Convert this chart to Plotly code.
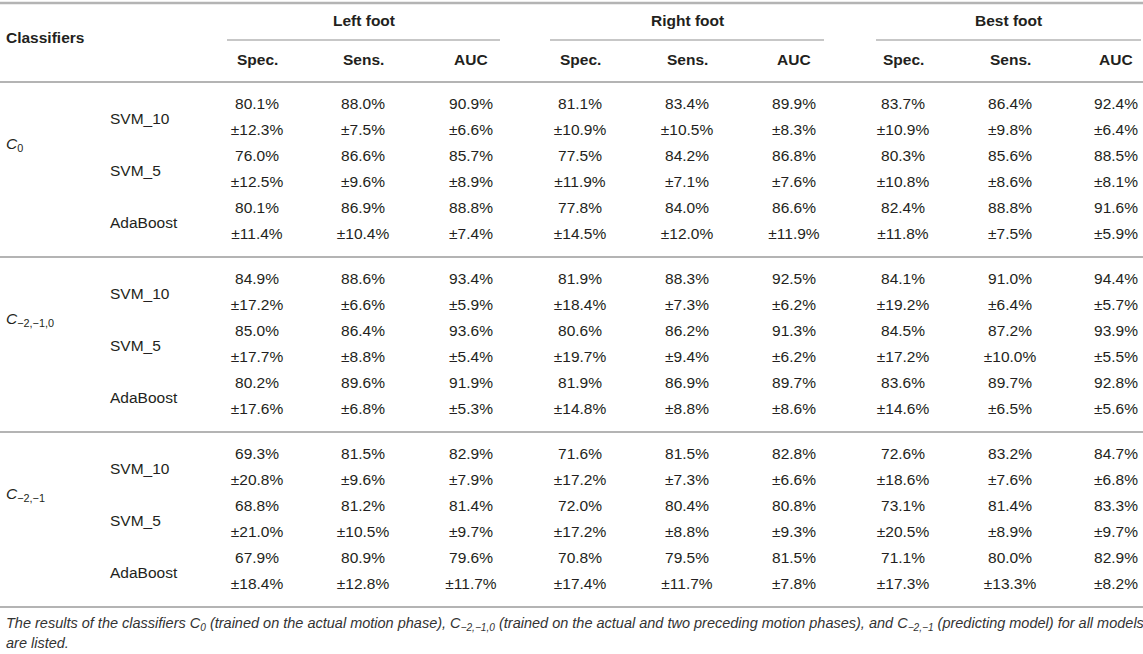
import plotly.graph_objects as go

# Table content
feet = ["Left foot", "Right foot", "Best foot"]
metrics = ["Spec.", "Sens.", "AUC"]
group_labels = ["<i>C</i><sub>0</sub>", "<i>C</i><sub>−2,−1,0</sub>", "<i>C</i><sub>−2,−1</sub>"]
classifiers = ["SVM_10", "SVM_5", "AdaBoost"]

# mean values (%) per classifier: left foot, right foot, best foot x (Spec, Sens, AUC)
mean_c0 = [[80.1, 88.0, 90.9, 81.1, 83.4, 89.9, 83.7, 86.4, 92.4],
           [76.0, 86.6, 85.7, 77.5, 84.2, 86.8, 80.3, 85.6, 88.5],
           [80.1, 86.9, 88.8, 77.8, 84.0, 86.6, 82.4, 88.8, 91.6]]
sd_c0 = [[12.3, 7.5, 6.6, 10.9, 10.5, 8.3, 10.9, 9.8, 6.4],
         [12.5, 9.6, 8.9, 11.9, 7.1, 7.6, 10.8, 8.6, 8.1],
         [11.4, 10.4, 7.4, 14.5, 12.0, 11.9, 11.8, 7.5, 5.9]]

mean_c210 = [[84.9, 88.6, 93.4, 81.9, 88.3, 92.5, 84.1, 91.0, 94.4],
             [85.0, 86.4, 93.6, 80.6, 86.2, 91.3, 84.5, 87.2, 93.9],
             [80.2, 89.6, 91.9, 81.9, 86.9, 89.7, 83.6, 89.7, 92.8]]
sd_c210 = [[17.2, 6.6, 5.9, 18.4, 7.3, 6.2, 19.2, 6.4, 5.7],
           [17.7, 8.8, 5.4, 19.7, 9.4, 6.2, 17.2, 10.0, 5.5],
           [17.6, 6.8, 5.3, 14.8, 8.8, 8.6, 14.6, 6.5, 5.6]]

mean_c21 = [[69.3, 81.5, 82.9, 71.6, 81.5, 82.8, 72.6, 83.2, 84.7],
            [68.8, 81.2, 81.4, 72.0, 80.4, 80.8, 73.1, 81.4, 83.3],
            [67.9, 80.9, 79.6, 70.8, 79.5, 81.5, 71.1, 80.0, 82.9]]
sd_c21 = [[20.8, 9.6, 7.9, 17.2, 7.3, 6.6, 18.6, 7.6, 6.8],
          [21.0, 10.5, 9.7, 17.2, 8.8, 9.3, 20.5, 8.9, 9.7],
          [18.4, 12.8, 11.7, 17.4, 11.7, 7.8, 17.3, 13.3, 8.2]]

footnote = ["The results of the classifiers C<sub>0</sub> (trained on the actual motion phase), "
            "C<sub>−2,−1,0</sub> (trained on the actual and two preceding motion phases), and "
            "C<sub>−2,−1</sub> (predicting model) for all models",
            "are listed."]

means = [mean_c0, mean_c210, mean_c21]
sds = [sd_c0, sd_c210, sd_c21]

# Layout geometry (pixels)
W, H = 1143, 654
FONT = "Liberation Sans, Arial, Helvetica, sans-serif"
TXT = "#231f20"
RULE = "#b4b4b4"
foot_x0 = [227, 550, 876]
foot_x1 = [500, 824, 1141]
col_x = [257, 363, 471, 580, 687, 794, 903, 1010, 1116]
header_line = 82
first_row = 105
row_step = 26
group_step = 175

body_font = dict(family=FONT, size=15.5, color=TXT)
bold_font = dict(family=FONT, size=15.5, color=TXT, weight="bold")

xs, ys, texts = [], [], []
annotations = []
shapes = []

for g in range(3):
    y0 = first_row + g * group_step
    annotations.append(dict(x=4, y=y0 + 1.5 * row_step, text=group_labels[g],
                            xanchor="left", font=body_font))
    for c in range(3):
        ym = y0 + 2 * c * row_step
        ys_ = ym + row_step
        annotations.append(dict(x=108, y=(ym + ys_) / 2, text=classifiers[c],
                                xanchor="left", font=body_font))
        for j in range(9):
            xs += [col_x[j], col_x[j]]
            ys += [ym, ys_]
            texts += ["%.1f%%" % means[g][c][j], "±%.1f%%" % sds[g][c][j]]
    yl = header_line + (g + 1) * group_step
    shapes.append(dict(type="line", x0=0, x1=W, y0=yl, y1=yl, line=dict(color=RULE, width=2)))

# header
annotations.append(dict(x=4, y=37, text="Classifiers", xanchor="left", font=bold_font))
for f in range(3):
    annotations.append(dict(x=(foot_x0[f] + foot_x1[f]) / 2, y=20, text=feet[f],
                            font=bold_font))
    shapes.append(dict(type="line", x0=foot_x0[f], x1=foot_x1[f], y0=40, y1=40,
                       line=dict(color=RULE, width=1.5)))
    for m in range(3):
        annotations.append(dict(x=col_x[3 * f + m], y=59, text=metrics[m], font=bold_font))

shapes.append(dict(type="line", x0=0, x1=W, y0=3, y1=3, line=dict(color=RULE, width=2.5)))
shapes.append(dict(type="line", x0=0, x1=W, y0=header_line, y1=header_line,
                   line=dict(color=RULE, width=2)))

# footnote
for i, line in enumerate(footnote):
    annotations.append(dict(x=4, y=624 + 19 * i, text=line, xanchor="left",
                            font=dict(family=FONT, size=14.5, color="#333333", style="italic")))

for a in annotations:
    a.update(xref="x", yref="y", yanchor="middle", showarrow=False)
for s in shapes:
    s.update(xref="x", yref="y", layer="below")

data = [go.Scatter(x=xs, y=ys, text=texts, mode="text", textposition="middle center",
                   textfont=body_font, hoverinfo="skip", showlegend=False)]

layout = go.Layout(width=W, height=H, margin=dict(l=0, r=0, t=0, b=0),
                   paper_bgcolor="white", plot_bgcolor="white",
                   font=body_font,
                   xaxis=dict(range=[0, W], visible=False, fixedrange=True),
                   yaxis=dict(range=[H, 0], visible=False, fixedrange=True),
                   annotations=annotations, shapes=shapes)

fig = go.Figure(data=data, layout=layout)
fig.write_html("out.html", config={"displayModeBar": False},
               post_script="document.body.style.margin='0px';"
                           "document.body.style.overflow='hidden';")
